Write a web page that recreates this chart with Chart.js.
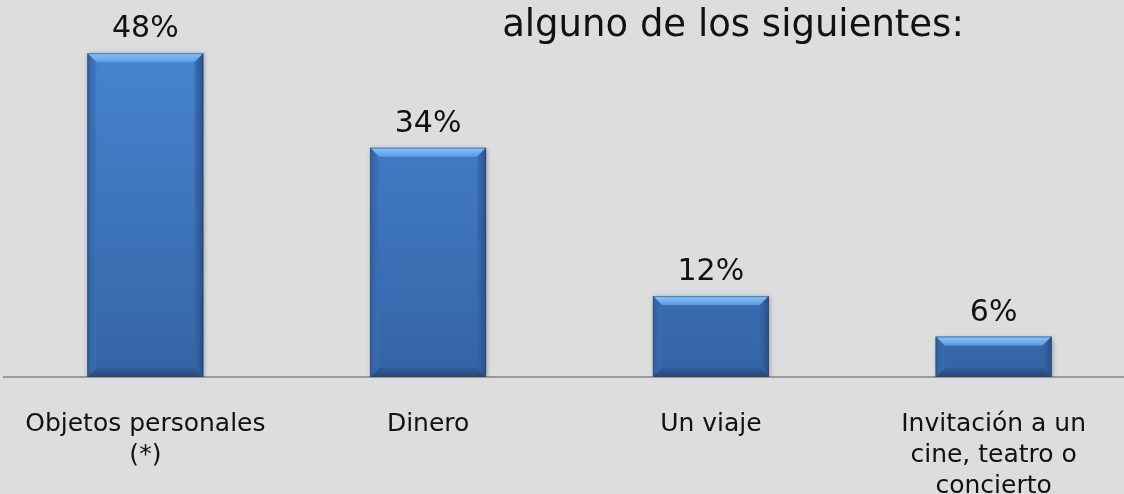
<!DOCTYPE html>
<html>
<head>
<meta charset="utf-8">
<script src="https://cdn.jsdelivr.net/npm/chart.js@4/dist/chart.umd.min.js"></script>
<style>
  html, body { margin: 0; padding: 0; background: #dddddd; overflow: hidden; width: 1124px; height: 494px; }
  #wrap { position: absolute; left: 0; top: 0; }
</style>
</head>
<body>
<div id="wrap"><canvas id="chart" width="1140" height="502"></canvas></div>
<script>
// data
const categories = [
  ['Objetos personales', '(*)'],
  ['Dinero'],
  ['Un viaje'],
  ['Invitación a un', 'cine, teatro o', 'concierto']
];
const values = [48, 34, 12, 6];
const titleText = 'alguno de los siguientes:';

const FONT = '"DejaVu Sans", Verdana, sans-serif';

// gradient for the bar face
function faceColor(context) {
  const chart = context.chart;
  const area = chart.chartArea;
  if (!area) return '#3f77c0';
  const el = context.element;
  const top = el && isFinite(el.y) ? el.y : area.top;
  const g = chart.ctx.createLinearGradient(0, top, 0, area.bottom);
  g.addColorStop(0, '#4a89d7');
  g.addColorStop(1, '#3464a5');
  return g;
}

// soft shadow round the bars
const shadowPlugin = {
  id: 'shadow',
  beforeDatasetsDraw(chart) {
    const ctx = chart.ctx;
    ctx.save();
    ctx.shadowColor = 'rgba(0,0,0,0.35)';
    ctx.shadowBlur = 5;
    ctx.shadowOffsetX = 1;
    ctx.shadowOffsetY = 1;
  },
  afterDatasetsDraw(chart) {
    chart.ctx.restore();
  }
};

// bevelled edges on every bar
const bevelPlugin = {
  id: 'bevel',
  afterDatasetsDraw(chart) {
    const ctx = chart.ctx;
    const e = 9;
    chart.getDatasetMeta(0).data.forEach(bar => {
      const p = bar.getProps(['x', 'y', 'base', 'width'], true);
      const l = p.x - p.width / 2, r = p.x + p.width / 2, t = p.y, b = p.base;
      const d = Math.min(e, (b - t) / 3);
      ctx.save();
      // top facet
      let g = ctx.createLinearGradient(0, t, 0, t + d);
      g.addColorStop(0, '#8cc4f6');
      g.addColorStop(1, '#5a9be6');
      ctx.fillStyle = g;
      poly(ctx, [[l, t], [r, t], [r - d, t + d], [l + d, t + d]]);
      // left facet
      g = ctx.createLinearGradient(l, 0, l + d, 0);
      g.addColorStop(0, '#2f5f9f');
      g.addColorStop(1, 'rgba(60,112,182,0.6)');
      ctx.fillStyle = g;
      poly(ctx, [[l, t], [l + d, t + d], [l + d, b - d], [l, b]]);
      // right facet
      g = ctx.createLinearGradient(r, 0, r - d, 0);
      g.addColorStop(0, '#274f88');
      g.addColorStop(1, 'rgba(55,100,165,0.6)');
      ctx.fillStyle = g;
      poly(ctx, [[r, t], [r, b], [r - d, b - d], [r - d, t + d]]);
      // bottom facet
      g = ctx.createLinearGradient(0, b, 0, b - d);
      g.addColorStop(0, '#22477b');
      g.addColorStop(1, 'rgba(45,88,148,0.7)');
      ctx.fillStyle = g;
      poly(ctx, [[l, b], [l + d, b - d], [r - d, b - d], [r, b]]);
      // outline
      ctx.strokeStyle = 'rgba(40,70,110,0.55)';
      ctx.lineWidth = 1;
      ctx.strokeRect(l + 0.5, t + 0.5, p.width - 1, b - t - 1);
      ctx.restore();
    });
  }
};

function poly(ctx, pts) {
  ctx.beginPath();
  ctx.moveTo(pts[0][0], pts[0][1]);
  for (let i = 1; i < pts.length; i++) ctx.lineTo(pts[i][0], pts[i][1]);
  ctx.closePath();
  ctx.fill();
}

// value labels above bars + title line
const labelPlugin = {
  id: 'valueLabels',
  afterDraw(chart) {
    const ctx = chart.ctx;
    ctx.save();
    ctx.fillStyle = '#111111';
    ctx.textAlign = 'center';
    ctx.textBaseline = 'alphabetic';
    ctx.font = '30px ' + FONT;
    chart.getDatasetMeta(0).data.forEach((bar, i) => {
      ctx.fillText(values[i] + '%', bar.x, bar.y - 16);
    });
    ctx.font = '37px ' + FONT;
    ctx.fillText(titleText, 733, 36);
    ctx.restore();
  }
};

new Chart(document.getElementById('chart'), {
  type: 'bar',
  data: {
    labels: categories,
    datasets: [{
      data: values,
      backgroundColor: faceColor,
      borderWidth: 0,
      barPercentage: 0.41,
      categoryPercentage: 1
    }]
  },
  options: {
    responsive: false,
    animation: false,
    devicePixelRatio: 1,
    layout: { padding: { left: 4, right: 5, top: 0, bottom: 0 } },
    plugins: {
      legend: { display: false },
      tooltip: { enabled: false },
      title: { display: false }
    },
    scales: {
      x: {
        grid: { display: false, drawTicks: true, tickLength: 32 },
        border: { display: true, color: '#9a9a9a', width: 2 },
        ticks: {
          color: '#111111',
          font: { family: FONT, size: 25, lineHeight: 1.24 },
          padding: 0,
          maxRotation: 0,
          autoSkip: false
        }
      },
      y: {
        display: false,
        min: 0,
        max: 55.9
      }
    }
  },
  plugins: [shadowPlugin, bevelPlugin, labelPlugin]
});
</script>
</body>
</html>
